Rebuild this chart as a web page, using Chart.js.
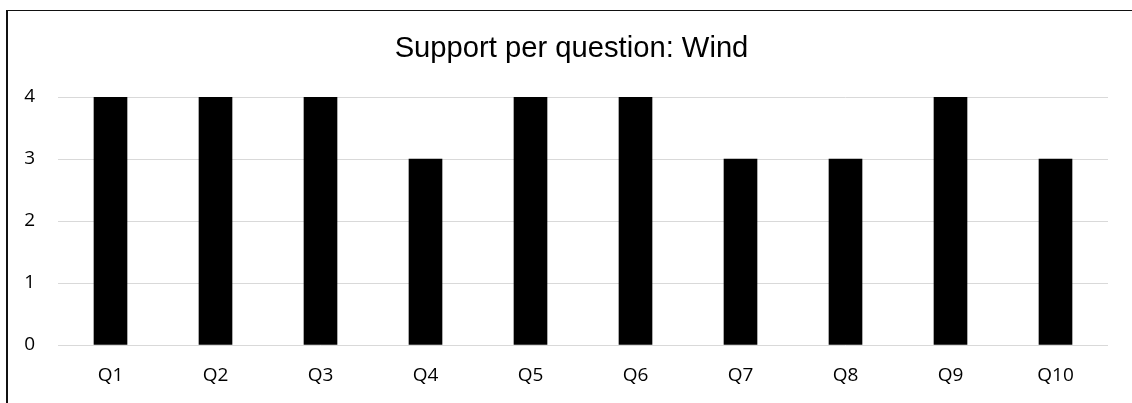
<!DOCTYPE html>
<html>
<head>
<meta charset="utf-8">
<script src="https://cdn.jsdelivr.net/npm/chart.js@4/dist/chart.umd.min.js"></script>
<style>
  html, body { margin: 0; padding: 0; background: #fff; overflow: hidden; width: 1132px; height: 403px; }
  #frame {
    position: absolute; left: 6px; top: 10px; width: 1300px; height: 600px;
    border-left: 2px solid #111; border-top: 1px solid #111;
    pointer-events: none; z-index: 2;
  }
  #c { position: absolute; left: 0; top: 0; }
</style>
</head>
<body>
<div id="frame"></div>
<canvas id="c" width="1132" height="403"></canvas>
<script>
// Questions and the support count recorded for each one
const questions = ['Q1', 'Q2', 'Q3', 'Q4', 'Q5', 'Q6', 'Q7', 'Q8', 'Q9', 'Q10'];
const support = [4, 4, 4, 3, 4, 4, 3, 3, 4, 3];
const yTicks = [0, 1, 2, 3, 4];
const chartTitle = 'Support per question: Wind';

const tickFont = { family: "'Open Sans', 'Noto Sans', sans-serif", size: 19 };

new Chart(document.getElementById('c'), {
  type: 'bar',
  data: {
    labels: questions,
    datasets: [{
      label: 'Wind',
      data: support,
      backgroundColor: '#000000',
      borderWidth: 0,
      barThickness: 33
    }]
  },
  options: {
    responsive: false,
    animation: false,
    devicePixelRatio: 1,
    layout: { padding: { left: 22, right: 11, top: 0, bottom: 0 } },
    plugins: {
      legend: { display: false },
      tooltip: { enabled: false },
      title: {
        display: true,
        text: chartTitle,
        color: '#000',
        font: { family: "'Liberation Sans', Arial, sans-serif", size: 29.2, weight: 'normal', lineHeight: 1.2 },
        padding: { top: 31, bottom: 31 }
      }
    },
    scales: {
      x: {
        grid: { display: false, drawTicks: false },
        border: { display: false },
        ticks: { color: '#000', font: tickFont, padding: 19, maxRotation: 0 },
        afterFit: (s) => { s.height = 58; }
      },
      y: {
        min: 0,
        max: 4,
        afterBuildTicks: (s) => { s.ticks = yTicks.map(v => ({ value: v })); },
        grid: { color: '#d9d9d9', lineWidth: 1, drawTicks: false },
        border: { display: false },
        ticks: { color: '#000', font: tickFont, padding: 23 },
        afterFit: (s) => { s.width = 36; }
      },
      // empty right-hand gutter so the plot ends where the frame's right margin begins
      gutter: {
        type: 'linear',
        position: 'right',
        min: 0,
        max: 4,
        grid: { display: false, drawTicks: false },
        border: { display: false },
        ticks: { display: false },
        afterFit: (s) => { s.width = 13; }
      }
    }
  }
});
</script>
</body>
</html>
